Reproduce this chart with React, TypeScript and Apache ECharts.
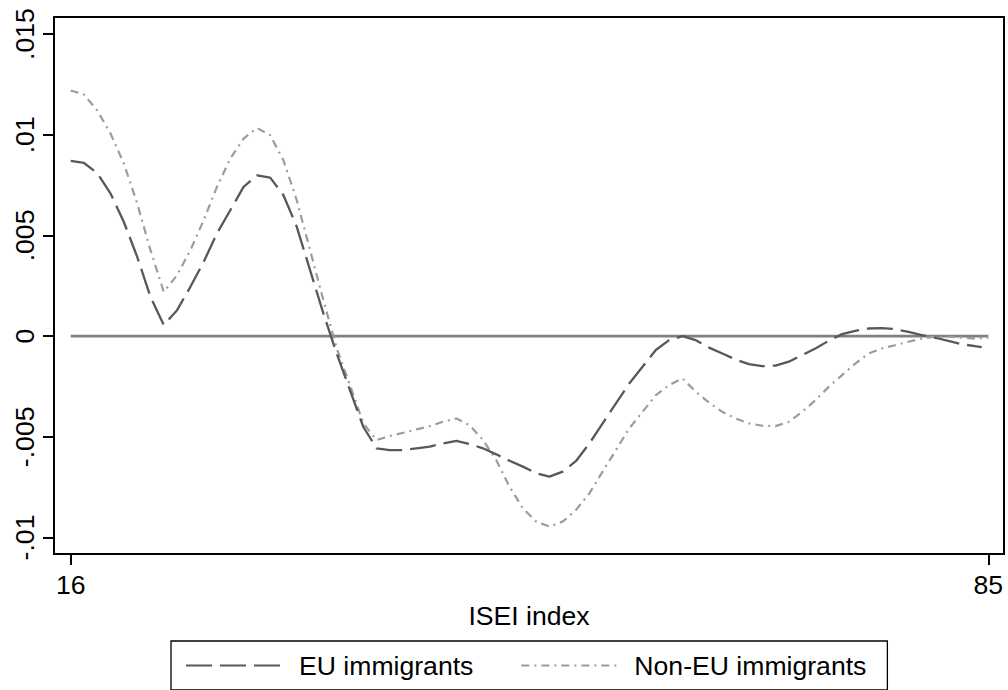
import React, { useEffect, useRef } from "react";
import * as echarts from "echarts";

const isei = [
  16, 17, 18, 19, 20, 21, 22, 23, 24, 25, 26, 27, 28, 29, 30, 31, 32, 33, 34, 35,
  36, 37, 38, 39, 40, 41, 42, 43, 44, 45, 46, 47, 48, 49, 50, 51, 52, 53, 54, 55,
  56, 57, 58, 59, 60, 61, 62, 63, 64, 65, 66, 67, 68, 69, 70, 71, 72, 73, 74, 75,
  76, 77, 78, 79, 80, 81, 82, 83, 84, 85,
];
const euIsei = [...isei.slice(0, 69), 84.5];

const euValues = [
  0.0087, 0.0086, 0.0081, 0.00708, 0.00567, 0.00394, 0.00195, 0.00055, 0.00129, 0.00245,
  0.00369, 0.0051, 0.00625, 0.00741, 0.00799, 0.00787, 0.007, 0.00543, 0.00328, 0.00113,
  -0.00086, -0.00268, -0.0045, -0.00557, -0.00566, -0.00566, -0.00557, -0.00549, -0.00533, -0.0052,
  -0.00536, -0.00557, -0.00587, -0.00619, -0.00648, -0.00681, -0.00698, -0.00673, -0.0062, -0.00533,
  -0.00433, -0.00334, -0.00235, -0.00152, -0.00069, -0.0002, 0.0, -0.0002, -0.00057, -0.00086,
  -0.00116, -0.00139, -0.00149, -0.00146, -0.00127, -0.00094, -0.00061, -0.00023, 0.0001, 0.00026,
  0.00038, 0.0004, 0.00035, 0.00021, 0.00005, -0.00008, -0.00023, -0.0004, -0.0005, -0.00055,
];

const nonEuValues = [
  0.0122, 0.012, 0.0112, 0.01006, 0.00857, 0.00659, 0.00427, 0.0022, 0.00303, 0.00427,
  0.00576, 0.00741, 0.00882, 0.00981, 0.01034, 0.00998, 0.00873, 0.00675, 0.00427, 0.00179,
  -0.0006, -0.00243, -0.00433, -0.00516, -0.00496, -0.0048, -0.00463, -0.00447, -0.00425, -0.00409,
  -0.00442, -0.00516, -0.00615, -0.00748, -0.00855, -0.00921, -0.00946, -0.00921, -0.00863, -0.00781,
  -0.00673, -0.00566, -0.00458, -0.00376, -0.00293, -0.00243, -0.0021, -0.00276, -0.0033, -0.00376,
  -0.00409, -0.00433, -0.00445, -0.00447, -0.00425, -0.00376, -0.00318, -0.00252, -0.00194, -0.00136,
  -0.00086, -0.00061, -0.00045, -0.00028, -0.00012, -0.00003, -0.00003, -0.00007, -0.00012, -0.00007,
];

const zeroLineX = [16, 85];
const zeroLineY = [0, 0];

const seriesNames = ["EU immigrants", "Non-EU immigrants"];
const xTickValues = [16, 85];
const yTickValues = [-0.01, -0.005, 0, 0.005, 0.01, 0.015];
const yTickLabels = ["-.01", "-.005", "0", ".005", ".01", ".015"];
const xAxisTitle = "ISEI index";

const FONT = "'Liberation Sans', Arial, Helvetica, sans-serif";

export default function App() {
  const ref = useRef<HTMLDivElement>(null);

  useEffect(() => {
    if (!ref.current) return;
    const chart = echarts.init(ref.current, null, { renderer: "svg" });
    const option = {
      animation: false,
      backgroundColor: "#ffffff",
      textStyle: { fontFamily: FONT },
      grid: {
        left: 54,
        right: 4,
        top: 17,
        bottom: 136,
        show: true,
        borderColor: "#000",
        borderWidth: 2,
      },
      legend: {
        data: seriesNames,
        left: 171,
        top: 641,
        orient: "horizontal",
        borderColor: "#000",
        borderWidth: 1.3,
        padding: [11, 21, 11, 14],
        itemWidth: 96,
        itemHeight: 20,
        itemGap: 47,
        itemStyle: { opacity: 0 },
        textStyle: {
          fontSize: 26.6,
          color: "#000",
          fontFamily: FONT,
          padding: [0, 0, 0, 12],
        },
      },
      xAxis: {
        type: "value",
        min: 14.745,
        max: 86.18,
        name: xAxisTitle,
        nameLocation: "middle",
        nameGap: 44,
        nameTextStyle: { fontSize: 26.6, color: "#000", fontFamily: FONT },
        axisLine: { show: true, onZero: false, lineStyle: { color: "#000", width: 2 } },
        axisTick: {
          show: true,
          customValues: xTickValues,
          length: 11,
          lineStyle: { color: "#000", width: 2 },
        },
        axisLabel: {
          customValues: xTickValues,
          fontSize: 26.6,
          color: "#000",
          margin: 17,
          fontFamily: FONT,
        },
        splitLine: { show: false },
      },
      yAxis: {
        type: "value",
        min: -0.01082,
        max: 0.01585,
        axisLine: { show: true, onZero: false, lineStyle: { color: "#000", width: 2 } },
        axisTick: {
          show: true,
          customValues: yTickValues,
          length: 11,
          lineStyle: { color: "#000", width: 2 },
        },
        axisLabel: {
          customValues: yTickValues,
          rotate: 90,
          fontSize: 26.6,
          color: "#000",
          margin: 16,
          fontFamily: FONT,
          formatter: (v: number) => {
            let best = 0;
            for (let i = 0; i < yTickValues.length; i++) {
              if (Math.abs(yTickValues[i] - v) < Math.abs(yTickValues[best] - v)) best = i;
            }
            return yTickLabels[best];
          },
        },
        splitLine: { show: false },
      },
      series: [
        {
          name: "zero",
          type: "line",
          data: zeroLineX.map((x, i) => [x, zeroLineY[i]]),
          showSymbol: false,
          symbol: "none",
          lineStyle: { color: "#808080", width: 2.6 },
          z: 1,
          silent: true,
        },
        {
          name: seriesNames[0],
          type: "line",
          data: euIsei.map((x, i) => [x, euValues[i]]),
          showSymbol: false,
          symbol: "none",
          color: "#585858",
          lineStyle: { color: "#585858", width: 2.3, type: [26, 8] },
          z: 3,
        },
        {
          name: seriesNames[1],
          type: "line",
          data: isei.map((x, i) => [x, nonEuValues[i]]),
          showSymbol: false,
          symbol: "none",
          color: "#9c9c9c",
          lineStyle: { color: "#9c9c9c", width: 2.2, type: [8, 5, 2, 5] },
          z: 2,
        },
      ],
    };
    chart.setOption(option as any);
    return () => chart.dispose();
  }, []);

  return (
    <div
      ref={ref}
      style={{ position: "absolute", left: 0, top: 0, width: 1008, height: 690, background: "#fff" }}
    />
  );
}
